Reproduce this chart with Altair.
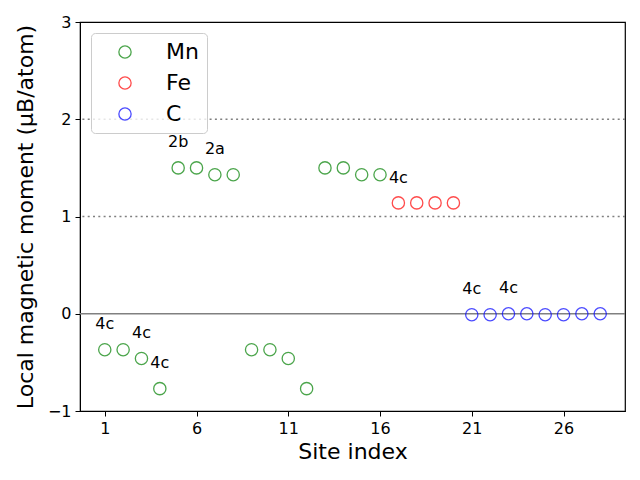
import altair as alt
import pandas as pd

sites = list(range(1, 29))
moments = [-0.37, -0.37, -0.46, -0.77, 1.50, 1.50, 1.43, 1.43,
           -0.37, -0.37, -0.46, -0.77, 1.50, 1.50, 1.43, 1.43,
           1.14, 1.14, 1.14, 1.14,
           -0.01, -0.01, 0.00, 0.00, -0.01, -0.01, 0.00, 0.00]
elements = ["Mn"] * 16 + ["Fe"] * 4 + ["C"] * 8

label_sites = [1, 3, 4, 5, 7, 17, 21, 23]
label_texts = ["4c", "4c", "4c", "2b", "2a", "4c", "4c", "4c"]
label_y = [-0.11, -0.20, -0.51, 1.77, 1.69, 1.40, 0.25, 0.26]

ref_levels = [0, 1, 2]
ref_dash = ["solid", "dot", "dot"]

df = pd.DataFrame({"site": sites, "moment": moments, "element": elements})
lab = pd.DataFrame({"site": label_sites, "y": label_y, "text": label_texts})
ref = pd.DataFrame({"y": ref_levels, "style": ref_dash})

FONT = "DejaVu Sans"
xscale = alt.Scale(domain=[-0.35, 29.35], nice=False, zero=False)
yscale = alt.Scale(domain=[-1, 3], nice=False)

rules = alt.Chart(ref).mark_rule(color="gray", strokeWidth=1.5).encode(
    y=alt.Y("y:Q", scale=yscale),
    strokeDash=alt.StrokeDash("style:N", scale=alt.Scale(domain=["solid", "dot"], range=[[1, 0], [2, 3.3]]), legend=None),
)

points = alt.Chart(df).mark_point(shape="circle", filled=False, size=150, strokeWidth=1.3).encode(
    x=alt.X("site:Q", scale=xscale, title="Site index",
            axis=alt.Axis(values=[1, 6, 11, 16, 21, 26], grid=False, format="d")),
    y=alt.Y("moment:Q", scale=yscale, title="Local magnetic moment (μB/atom)",
            axis=alt.Axis(values=[-1, 0, 1, 2, 3], grid=False, format="d")),
    color=alt.Color("element:N",
                    scale=alt.Scale(domain=["Mn", "Fe", "C"], range=["green", "red", "blue"]),
                    sort=["Mn", "Fe", "C"],
                    legend=alt.Legend(title=None, orient="none", legendX=11, legendY=11,
                                      symbolType="circle", symbolSize=150, symbolStrokeWidth=1.3,
                                      symbolFillColor="transparent",
                                      labelFontSize=22, labelFont=FONT, labelColor="black",
                                      labelOffset=30, padding=8, symbolOffset=15, rowPadding=9,
                                      labelLimit=200,
                                      fillColor="rgba(255,255,255,0.8)", strokeColor="#cccccc",
                                      cornerRadius=4)),
)

texts = alt.Chart(lab).mark_text(fontSize=16, font=FONT, color="black", baseline="middle", align="center").encode(
    x=alt.X("site:Q", scale=xscale),
    y=alt.Y("y:Q", scale=yscale),
    text="text:N",
)

chart = (rules + points + texts).properties(
    width=545, height=389,
    autosize=alt.AutoSizeParams(type="none"),
    padding={"left": 72, "top": 14, "right": 7, "bottom": 56},
).configure_view(stroke="black", strokeWidth=1.2).configure_axis(
    labelFont=FONT, titleFont=FONT, labelFontSize=16, titleFontSize=22,
    labelColor="black", titleColor="black", titleFontWeight="normal",
    domainColor="black", tickColor="black", tickSize=5, labelPadding=4,
).configure_axisY(titlePadding=10).configure_axisX(titlePadding=5)

chart.save("out.html", embed_options={"renderer": "svg", "actions": False})
